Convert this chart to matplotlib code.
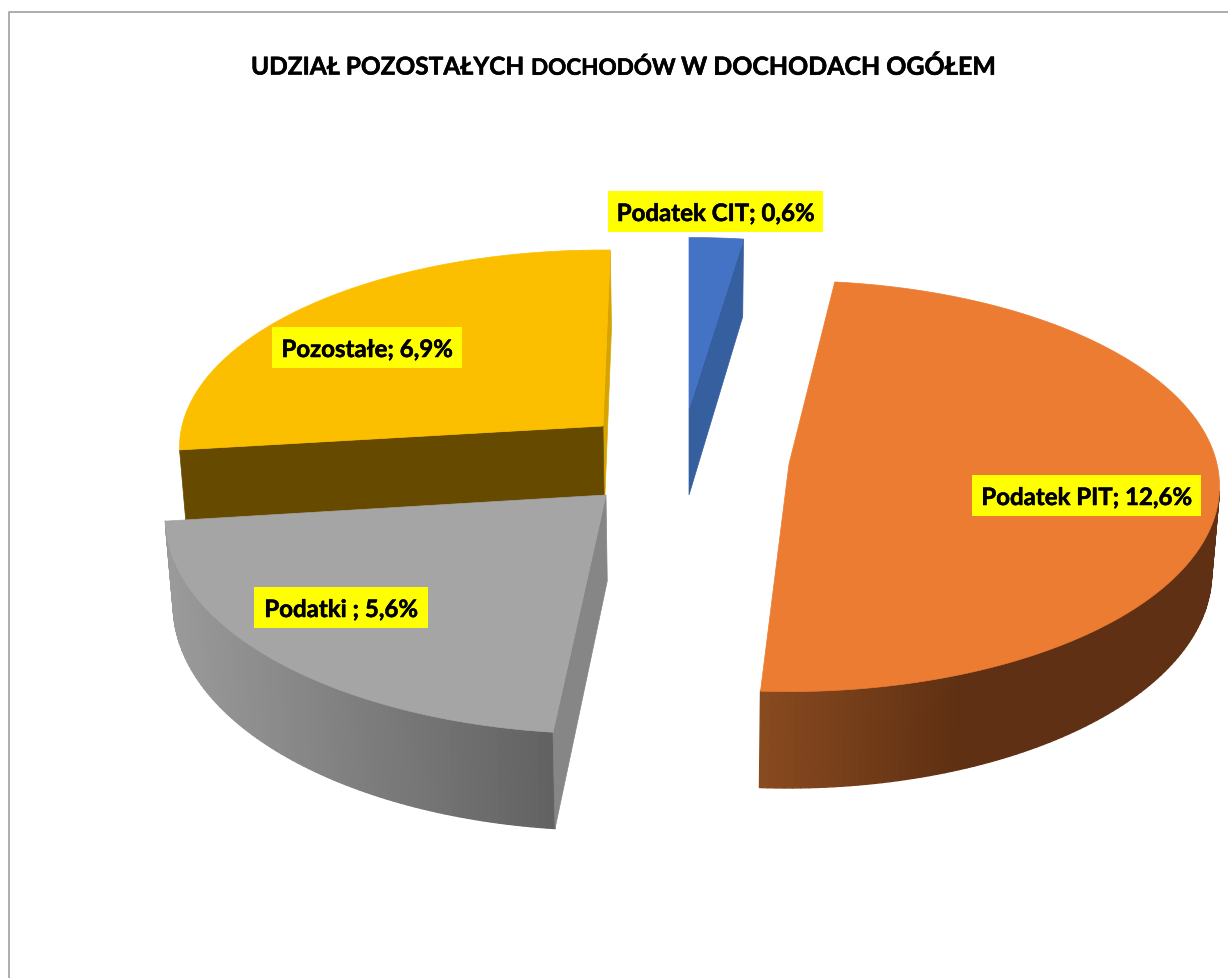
import numpy as np
import matplotlib
matplotlib.use("Agg")
import matplotlib.pyplot as plt
import matplotlib.patheffects as pe
from matplotlib.collections import PolyCollection
from matplotlib.colors import to_rgb
from matplotlib.patches import Rectangle, Polygon

plt.rcParams['font.family'] = ['Lato', 'DejaVu Sans']

categories = ["Podatek CIT", "Podatek PIT", "Podatki ", "Pozostałe"]
values = [0.6, 12.6, 5.6, 6.9]
title_parts = ["UDZIAŁ POZOSTAŁYCH", "DOCHODÓW", "W DOCHODACH OGÓŁEM"]

# layout in pixels, one row per slice
apex_x = [689, 789, 606, 603]
apex_y = [410, 465, 496, 427]
radius_x = [428, 428, 438, 421]
radius_y = [190, 203, 213, 195]
trim_start = [0, -1.6, 1.3, -0.3]
trim_end = [-0.3, -1.5, -0.3, 1.1]
label_boxes = [(608, 192, 215, 41), (972, 476, 229, 41), (254, 588, 174, 41), (272, 328, 190, 41)]

top_colors = ["#4472c4", "#eb7c31", "#a5a5a5", "#fcbf00"]
side_colors = ["#355f9e", None, "#868686", "#d6a400"]
cut_colors = [None, None, None, "#654a00"]
wall_stops = [("#355f9e", "#355f9e"), ("#8a4b20", "#5f3013"), ("#9a9a9a", "#626262"), ("#654a00", "#654a00")]
wall_span = [(689, 743), (761, 960), (170, 555), (180, 610)]

persp = 0.108
depth = 86
base_scale = 0.985
base_x = 690


def top_point(i, angle):
    a = np.radians(angle)
    w = 1 + persp * np.cos(a)
    return apex_x[i] + radius_x[i] * np.sin(a) / w, apex_y[i] - radius_y[i] * np.cos(a) / w


def lower(x, y, w_y=0.0):
    w = 1 + persp * w_y
    return base_x + (x - base_x) * base_scale, y + depth / w


def low_point(i, angle):
    x, y = top_point(i, angle)
    return lower(x, y, np.cos(np.radians(angle)))


def low_apex(i):
    return lower(apex_x[i], apex_y[i])


def end_face(i, angle, color):
    pts = [top_point(i, angle), low_point(i, angle), low_apex(i), (apex_x[i], apex_y[i])]
    ax.add_patch(Polygon(pts, closed=True, fc=color, ec=color, lw=0.5))


fig = plt.figure(figsize=(12.28, 9.79), dpi=100)
ax = fig.add_axes([0, 0, 1, 1])
ax.set_xlim(0, 1228)
ax.set_ylim(979, 0)
ax.axis("off")

# frame of the chart area
ax.plot([8.5, 8.5, 1228], [979, 12.5, 12.5], color="#a0a0a0", lw=1.2)

shares = np.array(values) / sum(values) * 360
starts = np.concatenate([[0], np.cumsum(shares)[:-1]])
ends = starts + shares

# back to front
for i in [0, 3, 1, 2]:
    a0, a1 = starts[i] + trim_start[i], ends[i] + trim_end[i]
    angles = np.linspace(a0, a1, int(shares[i]) + 2)
    quads = []
    cols = []
    c0, c1 = np.array(to_rgb(wall_stops[i][0])), np.array(to_rgb(wall_stops[i][1]))
    for b0, b1 in zip(angles[:-1], angles[1:]):
        # back part of the wall is hidden behind the top face
        if np.cos(np.radians(b0)) > -0.12 or np.cos(np.radians(b1)) > -0.12:
            continue
        quads.append([top_point(i, b0), top_point(i, b1), low_point(i, b1), low_point(i, b0)])
        t = (top_point(i, b0)[0] - wall_span[i][0]) / (wall_span[i][1] - wall_span[i][0])
        cols.append(c0 + (c1 - c0) * np.clip(t, 0, 1))
    if quads:
        ax.add_collection(PolyCollection(quads, facecolors=cols, edgecolors=cols, linewidths=1.0))

    if side_colors[i] is not None:
        end_face(i, a1 if i != 2 else a0, side_colors[i])
    if cut_colors[i] is not None:
        end_face(i, a0, cut_colors[i])

    rim = [top_point(i, b) for b in angles]
    ax.add_patch(Polygon([(apex_x[i], apex_y[i])] + rim, closed=True, fc=top_colors[i], ec=top_colors[i], lw=0.5))

thick = [pe.withStroke(linewidth=0.4, foreground="black")]
for i, name in enumerate(categories):
    x0, y0, w, h = label_boxes[i]
    ax.add_patch(Rectangle((x0, y0), w, h, fc="#ffff00", ec="none", zorder=5))
    txt = f"{name}; {values[i]:.1f}%".replace(".", ",")
    ax.text(x0 + w / 2, y0 + h / 2 + 2, txt, ha="center", va="center", fontsize=17.3, fontweight="bold",
            color="black", zorder=6, path_effects=thick)

ax.text(251, 68, title_parts[0], ha="left", va="center", fontsize=17.6, fontweight="bold", color="black", path_effects=thick)
ax.text(531, 69, title_parts[1], ha="left", va="center", fontsize=16.2, fontweight="bold", color="black", path_effects=thick)
ax.text(681, 68, title_parts[2], ha="left", va="center", fontsize=17.95, fontweight="bold", color="black", path_effects=thick)

fig.savefig("out.png", dpi=100)
